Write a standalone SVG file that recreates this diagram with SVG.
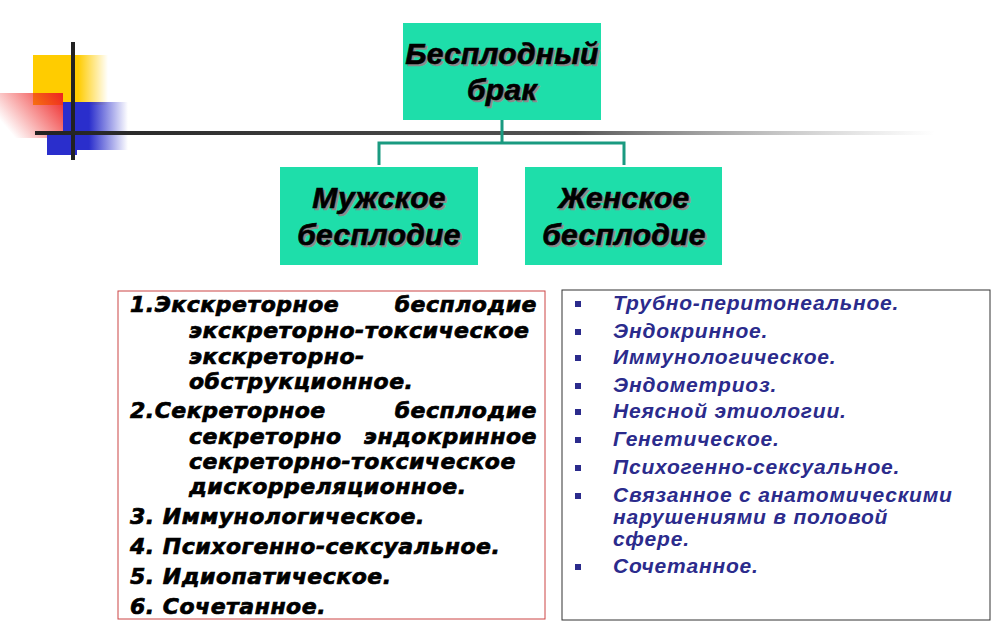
<svg xmlns="http://www.w3.org/2000/svg" width="1007" height="630" viewBox="0 0 1007 630">
<defs>
<linearGradient id="gy" x1="0" x2="1"><stop offset="0" stop-color="#ffcc00"/><stop offset="0.6" stop-color="#ffcc00"/><stop offset="1" stop-color="#ffcc00" stop-opacity="0"/></linearGradient>
<linearGradient id="gr" x1="1" x2="0" y1="0" y2="0.6"><stop offset="0" stop-color="#ee2222"/><stop offset="1" stop-color="#ee2222" stop-opacity="0"/></linearGradient>
<linearGradient id="gb" x1="0" x2="1"><stop offset="0" stop-color="#2a2ecc"/><stop offset="0.4" stop-color="#2a2ecc"/><stop offset="1" stop-color="#2a2ecc" stop-opacity="0"/></linearGradient>
<linearGradient id="gl" x1="0" x2="1"><stop offset="0" stop-color="#222"/><stop offset="0.6" stop-color="#555"/><stop offset="1" stop-color="#999" stop-opacity="0"/></linearGradient>
</defs>
<style>
.box{fill:#1edeaa}
.hd{font-family:"Liberation Sans",Arial,sans-serif;font-weight:bold;font-style:italic;font-size:30px;letter-spacing:0.3px;fill:#000;stroke:#000;stroke-width:0.6;text-anchor:middle}
.sh{fill:#8a8a8a;stroke:#8a8a8a}
.lt{font-family:"DejaVu Sans",Verdana,sans-serif;font-weight:bold;font-style:italic;font-size:22px;letter-spacing:0.5px;fill:#000;stroke:#000;stroke-width:0.7}
.rt{font-family:"Liberation Sans",Arial,sans-serif;font-weight:bold;font-style:italic;font-size:21px;letter-spacing:0.8px;fill:#2b2b8c}
.bu{fill:#2b2b8c}
.cn{fill:none;stroke:#1a9a80;stroke-width:3}
</style>
<rect width="1007" height="630" fill="#fff"/>
<g id="deco">
<rect x="33" y="55" width="75" height="50" fill="url(#gy)"/>
<rect x="0" y="93" width="63" height="45" fill="url(#gr)"/>
<rect x="63" y="102" width="65" height="48" fill="url(#gb)"/>
<rect x="47" y="135" width="30" height="20" fill="#2a2ecc"/>
<rect x="71" y="42" width="4" height="118" fill="#222"/>
<rect x="35" y="131" width="900" height="4" fill="url(#gl)"/>
</g>
<g id="connectors">
<path class="cn" d="M502 120V143M379 165V143H624V165"/>
</g>
<g id="root">
<rect class="box" x="403" y="23" width="198" height="97"/>
<text class="hd sh" x="504" y="66">Бесплодный</text><text class="hd" x="502" y="64">Бесплодный</text>
<text class="hd sh" x="504" y="102">брак</text><text class="hd" x="502" y="100">брак</text>
</g>
<g id="male">
<rect class="box" x="280" y="167" width="198" height="98"/>
<text class="hd sh" x="381" y="210">Мужское</text><text class="hd" x="379" y="208">Мужское</text>
<text class="hd sh" x="381" y="247">бесплодие</text><text class="hd" x="379" y="245">бесплодие</text>
</g>
<g id="female">
<rect class="box" x="525" y="167" width="197" height="98"/>
<text class="hd sh" x="626" y="210">Женское</text><text class="hd" x="624" y="208">Женское</text>
<text class="hd sh" x="626" y="247">бесплодие</text><text class="hd" x="624" y="245">бесплодие</text>
</g>
<g id="male-list">
<rect x="118" y="291" width="427" height="328" fill="#fff" stroke="#cc4444" stroke-width="1"/>
<text class="lt" x="130" y="312">1.Экскреторное</text><text class="lt" x="537" y="312" text-anchor="end">бесплодие</text>
<text class="lt" x="189" y="338">экскреторно-токсическое</text>
<text class="lt" x="189" y="364">экскреторно-</text>
<text class="lt" x="189" y="389">обструкционное.</text>
<text class="lt" x="130" y="418">2.Секреторное</text><text class="lt" x="537" y="418" text-anchor="end">бесплодие</text>
<text class="lt" x="189" y="444">секреторно</text><text class="lt" x="537" y="444" text-anchor="end">эндокринное</text>
<text class="lt" x="189" y="469">секреторно-токсическое</text>
<text class="lt" x="189" y="494">дискорреляционное.</text>
<text class="lt" x="130" y="524">3. Иммунологическое.</text>
<text class="lt" x="130" y="554">4. Психогенно-сексуальное.</text>
<text class="lt" x="130" y="584">5. Идиопатическое.</text>
<text class="lt" x="130" y="614">6. Сочетанное.</text>
</g>
<g id="female-list">
<rect x="562" y="290" width="428" height="330" fill="#fff" stroke="#333" stroke-width="1"/>
<rect class="bu" x="575" y="301" width="6" height="6"/><text class="rt" x="613" y="310">Трубно-перитонеальное.</text>
<rect class="bu" x="575" y="329" width="6" height="6"/><text class="rt" x="613" y="338">Эндокринное.</text>
<rect class="bu" x="575" y="355" width="6" height="6"/><text class="rt" x="613" y="364">Иммунологическое.</text>
<rect class="bu" x="575" y="383" width="6" height="6"/><text class="rt" x="613" y="392">Эндометриоз.</text>
<rect class="bu" x="575" y="409" width="6" height="6"/><text class="rt" x="613" y="418">Неясной этиологии.</text>
<rect class="bu" x="575" y="437" width="6" height="6"/><text class="rt" x="613" y="446">Генетическое.</text>
<rect class="bu" x="575" y="465" width="6" height="6"/><text class="rt" x="613" y="474">Психогенно-сексуальное.</text>
<rect class="bu" x="575" y="493" width="6" height="6"/><text class="rt" x="613" y="502">Связанное с анатомическими</text>
<text class="rt" x="613" y="524">нарушениями в половой</text>
<text class="rt" x="613" y="546">сфере.</text>
<rect class="bu" x="575" y="564" width="6" height="6"/><text class="rt" x="613" y="573">Сочетанное.</text>
</g>
</svg>
